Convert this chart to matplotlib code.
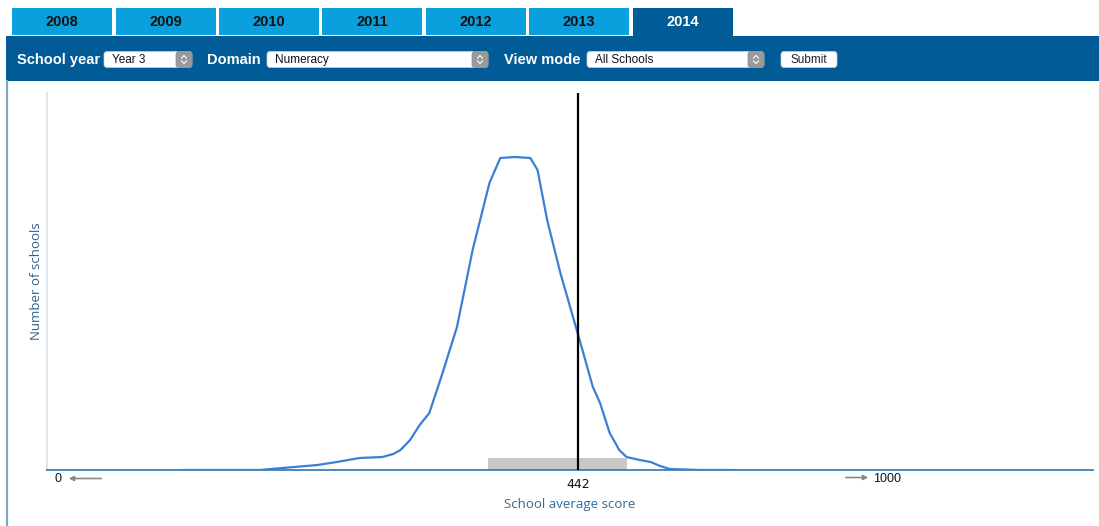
import matplotlib
matplotlib.use('Agg')
import matplotlib.pyplot as plt
from matplotlib.patches import Rectangle, FancyBboxPatch

# tabs along the top
years = ['2008', '2009', '2010', '2011', '2012', '2013', '2014']
active_year = '2014'

# filter controls
control_labels = ['School year', 'Domain', 'View mode']
control_values = ['Year 3', 'Numeracy', 'All Schools']

# density of school average scores
scores = [113, 177, 196, 225, 241, 260, 279, 288, 294, 302, 310, 318, 329, 341,
          354, 368, 377, 389, 402, 408, 416, 427, 443, 454, 460, 468, 476, 482,
          493, 502, 510, 518, 543, 572]
n_schools = [0, 0, 2, 5, 8, 12, 13, 16, 20, 30, 45, 57, 97, 143,
             220, 287, 312, 313, 312, 300, 250, 197, 130, 83, 67, 37, 20, 13,
             10, 8, 4, 1, 0, 0]

school_score = 442
ci_low, ci_high = 367, 482
ci_height = 12

W, H = 1099, 526
fig = plt.figure(figsize=(W / 100, H / 100), dpi=100)

LIGHT = '#0aa0de'
DARK = '#005b96'

# chrome overlay in pixel coords
ui = fig.add_axes([0, 0, 1, 1])
ui.set_xlim(0, W)
ui.set_ylim(H, 0)
ui.axis('off')

tab_x = [12, 116, 219, 322, 426, 529, 633]
for x, yr in zip(tab_x, years):
    active = yr == active_year
    ui.add_patch(Rectangle((x, 8), 100, 29 if active else 27,
                           color=DARK if active else LIGHT, lw=0))
    ui.text(x + 50, 22, yr, ha='center', va='center', fontsize=10.5,
            fontweight='bold', family='Liberation Sans',
            color='white' if active else '#111111')

ui.add_patch(Rectangle((6, 36), W - 6, 45, color=DARK, lw=0))
ui.plot([7, 7], [81, H], color='#7aaac8', lw=1.6)

label_x = [17, 207, 504]
box_x = [(104, 192), (267, 488), (587, 764)]
for lx, lab, (b0, b1), val in zip(label_x, control_labels, box_x, control_values):
    ui.text(lx, 60, lab, ha='left', va='center', fontsize=10.5,
            fontweight='bold', family='Liberation Sans', color='white')
    ui.add_patch(FancyBboxPatch((b0, 51.5), b1 - b0, 16, boxstyle='round,pad=0,rounding_size=3',
                                fc='white', ec='#d0d0d0', lw=0.5))
    ui.add_patch(FancyBboxPatch((b1 - 16, 51.5), 16, 16, boxstyle='round,pad=0,rounding_size=3',
                                fc='#9a9a9a', ec='#8a8a8a', lw=0.5))
    cx = b1 - 8
    ui.plot([cx - 2.5, cx, cx + 2.5], [58, 55.5, 58], color='white', lw=0.8)
    ui.plot([cx - 2.5, cx, cx + 2.5], [61, 63.5, 61], color='white', lw=0.8)
    ui.text(b0 + 8, 60, val, ha='left', va='center', fontsize=8.5,
            family='Liberation Sans', color='#111111')

ui.add_patch(FancyBboxPatch((781, 51.5), 56, 16, boxstyle='round,pad=0,rounding_size=3',
                            fc='white', ec='#d0d0d0', lw=0.5))
ui.text(809, 60, 'Submit', ha='center', va='center', fontsize=8.5,
        family='Liberation Sans', color='#222222')

# range hints under the axis
ui.text(58, 479, '0', ha='center', va='center', fontsize=9,
        family='Liberation Sans', color='#111111')
ui.annotate('', xy=(66, 478.5), xytext=(104, 478.5),
            arrowprops=dict(arrowstyle='-|>', color='#888888', lw=1.2, mutation_scale=7))
ui.text(873, 479, '1000', ha='left', va='center', fontsize=9,
        family='Liberation Sans', color='#111111')
ui.annotate('', xy=(871, 477.5), xytext=(843, 477.5),
            arrowprops=dict(arrowstyle='-|>', color='#888888', lw=1.2, mutation_scale=7))

# main chart
ax = fig.add_axes([47 / W, (H - 470) / H, (1093 - 47) / W, (470 - 93) / H])
ax.patch.set_alpha(0)
ax.set_xlim(0, 870)
ax.set_ylim(0, 377)

ax.bar((ci_low + ci_high) / 2, ci_height, width=ci_high - ci_low,
       color='#c8c8c8', lw=0, zorder=1)
ax.plot(scores, n_schools, color='#3a7fd6', lw=1.6, solid_joinstyle='round',
        solid_capstyle='round', zorder=3)
ax.axvline(school_score, color='black', lw=1.6, zorder=4)

for s in ['top', 'right']:
    ax.spines[s].set_visible(False)
ax.spines['left'].set_color('#d5e2ec')
ax.spines['left'].set_linewidth(1.2)
ax.spines['bottom'].set_color('#3f7fb2')
ax.spines['bottom'].set_linewidth(1.3)
ax.set_yticks([])
ax.set_xticks([school_score])
ax.set_xticklabels([str(school_score)], fontsize=9, color='#111111')
ax.tick_params(axis='x', length=0, pad=6)
ax.set_xlabel('School average score', fontsize=9.5, color='#2e6a9a',
              family='Open Sans', labelpad=5)
ax.set_ylabel('Number of schools', fontsize=9.5, color='#2a5f90',
              family='Open Sans', labelpad=3)

fig.savefig('out.png', dpi=100)
